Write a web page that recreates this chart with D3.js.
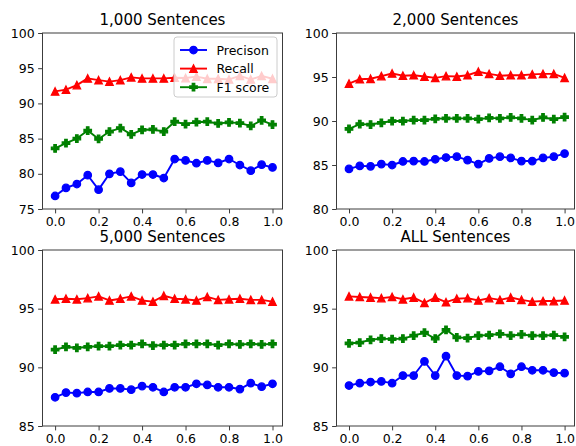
<!DOCTYPE html>
<html>
<head>
<meta charset="utf-8">
<script src="https://cdn.jsdelivr.net/npm/d3@7"></script>
<style>
  body { margin: 0; background: #fff; }
  svg { display: block; font-family: "DejaVu Sans", sans-serif; }
</style>
</head>
<body>
<svg id="chart" width="576" height="446"></svg>
<script>
// x positions of the points (weight from 0.0 to 1.0)
const xs = [0, 0.05, 0.1, 0.15, 0.2, 0.25, 0.3, 0.35, 0.4, 0.45, 0.5,
            0.55, 0.6, 0.65, 0.7, 0.75, 0.8, 0.85, 0.9, 0.95, 1.0];
const xTicks = [0, 0.2, 0.4, 0.6, 0.8, 1.0];

const seriesNames = ["Precison", "Recall", "F1 score"];
const seriesColors = ["#0000ff", "#ff0000", "#008000"];
const seriesMarkers = ["circle", "triangle", "plus"];

const titles = ["1,000 Sentences", "2,000 Sentences", "5,000 Sentences", "ALL Sentences"];
const yRanges = [[75, 100], [80, 100], [85, 100], [85, 100]];
const yTicks1k = [75, 80, 85, 90, 95, 100];
const yTicks2k = [80, 85, 90, 95, 100];
const yTicks5k = [85, 90, 95, 100];
const yTicksAll = [85, 90, 95, 100];

const precision1k = [76.85, 78.0, 78.55, 79.8, 77.75, 80.0, 80.3, 78.7, 79.9, 79.9, 79.4,
                     82.1, 81.9, 81.5, 81.9, 81.55, 82.1, 81.25, 80.45, 81.3, 80.9];
const recall1k = [91.7, 91.95, 92.6, 93.55, 93.3, 93.1, 93.3, 93.7, 93.55, 93.55, 93.55,
                  93.65, 93.6, 93.8, 93.5, 93.5, 93.4, 93.9, 93.4, 93.9, 93.5];
const f1_1k = [83.6, 84.35, 85.0, 86.15, 84.95, 86.0, 86.5, 85.6, 86.25, 86.3, 86.0,
               87.4, 87.05, 87.35, 87.4, 87.15, 87.3, 87.2, 86.8, 87.6, 87.0];

const precision2k = [84.55, 84.9, 84.85, 85.1, 85.0, 85.4, 85.45, 85.4, 85.65, 85.85, 85.95,
                     85.55, 85.1, 85.75, 85.95, 85.8, 85.45, 85.45, 85.8, 85.95, 86.3];
const recall2k = [94.25, 94.75, 94.8, 95.1, 95.4, 95.15, 95.2, 95.05, 94.9, 95.1, 95.05,
                  95.2, 95.6, 95.35, 95.15, 95.2, 95.2, 95.3, 95.35, 95.35, 94.9];
const f1_2k = [89.1, 89.65, 89.6, 89.8, 90.0, 90.0, 90.1, 90.1, 90.25, 90.3, 90.3,
               90.3, 90.2, 90.35, 90.3, 90.4, 90.3, 90.1, 90.4, 90.2, 90.45];

const precision5k = [87.45, 87.85, 87.8, 87.9, 87.9, 88.2, 88.2, 88.1, 88.4, 88.3, 87.9,
                     88.3, 88.3, 88.6, 88.5, 88.3, 88.3, 88.15, 88.65, 88.35, 88.6];
const recall5k = [95.8, 95.85, 95.8, 95.9, 96.05, 95.7, 95.85, 96.05, 95.7, 95.6, 96.1,
                  95.85, 95.8, 95.7, 96.0, 95.75, 95.8, 95.85, 95.75, 95.75, 95.6];
const f1_5k = [91.5, 91.75, 91.65, 91.75, 91.8, 91.8, 91.9, 91.9, 92.0, 91.85, 91.9,
               91.9, 92.0, 92.0, 92.0, 91.9, 92.0, 91.95, 92.0, 91.95, 92.0];

const precisionAll = [88.45, 88.65, 88.75, 88.8, 88.65, 89.3, 89.3, 90.5, 89.3, 90.95, 89.3,
                      89.25, 89.65, 89.7, 90.05, 89.45, 90.05, 89.75, 89.75, 89.55, 89.5];
const recallAll = [96.05, 96.0, 95.95, 95.9, 96.0, 95.8, 95.95, 95.5, 95.95, 95.55, 95.85,
                   95.9, 95.7, 95.9, 95.75, 95.95, 95.75, 95.6, 95.65, 95.65, 95.7];
const f1_All = [92.05, 92.1, 92.35, 92.45, 92.4, 92.45, 92.7, 92.95, 92.45, 93.2, 92.55,
                92.5, 92.7, 92.75, 92.85, 92.7, 92.8, 92.7, 92.7, 92.75, 92.6];

const panelSeries = [
    [precision1k, recall1k, f1_1k],
    [precision2k, recall2k, f1_2k],
    [precision5k, recall5k, f1_5k],
    [precisionAll, recallAll, f1_All]
];
const panelTicks = [yTicks1k, yTicks2k, yTicks5k, yTicksAll];

const svg = d3.select("#chart");
const cols = [[42.5, 282.5], [336.5, 574.5]];
const rows = [[33, 209], [250, 426]];
const ms = 7.5; // marker size in px
const spineColor = "#3c3c3c";

function markerPath(kind) {
    const h = ms / 2;
    if (kind === "triangle") {
        return `M0,${-h}L${h},${h}L${-h},${h}Z`;
    }
    if (kind === "plus") {
        const a = ms / 6;
        return `M${-a},${-h}H${a}V${-a}H${h}V${a}H${a}V${h}H${-a}V${a}H${-h}V${-a}H${-a}Z`;
    }
    return d3.symbol(d3.symbolCircle, Math.PI * h * h)();
}

function drawPanel(i) {
    const [x0, x1] = cols[i % 2];
    const [y0, y1] = rows[Math.floor(i / 2)];
    const x = d3.scaleLinear().domain([-0.058, 1.046]).range([x0, x1]);
    const y = d3.scaleLinear().domain(yRanges[i]).range([y1, y0]);
    const g = svg.append("g");

    const line = d3.line().x((d, k) => x(xs[k])).y(d => y(d));

    panelSeries[i].forEach((vals, s) => {
        const color = seriesColors[s];
        g.append("path")
            .attr("d", line(vals))
            .attr("fill", "none")
            .attr("stroke", color)
            .attr("stroke-width", 1.9)
            .attr("stroke-linejoin", "round");
        g.selectAll(null)
            .data(vals)
            .join("path")
            .attr("d", markerPath(seriesMarkers[s]))
            .attr("transform", (d, k) => `translate(${x(xs[k])},${y(d)})`)
            .attr("fill", color)
            .attr("stroke", color)
            .attr("stroke-width", 1.25)
            .attr("stroke-linejoin", "miter");
    });

    // axes
    const yAxis = g.append("g")
        .attr("transform", `translate(${x0},0)`)
        .call(d3.axisLeft(y).tickValues(panelTicks[i]).tickSize(4.4).tickPadding(3.5));
    const xAxis = g.append("g")
        .attr("transform", `translate(0,${y1})`)
        .call(d3.axisBottom(x).tickValues(xTicks).tickFormat(d3.format(".1f")).tickSize(4.4).tickPadding(3.5));
    [yAxis, xAxis].forEach(ax => {
        ax.select(".domain").remove();
        ax.selectAll("text").attr("font-size", 12.5).attr("fill", "#000")
            .attr("font-family", "DejaVu Sans, sans-serif");
        ax.selectAll("line").attr("stroke", spineColor).attr("stroke-width", 1);
    });

    g.append("rect")
        .attr("x", x0).attr("y", y0)
        .attr("width", x1 - x0).attr("height", y1 - y0)
        .attr("fill", "none").attr("stroke", spineColor).attr("stroke-width", 1);

    g.append("text")
        .attr("x", (x0 + x1) / 2).attr("y", y0 - 8)
        .attr("text-anchor", "middle")
        .attr("font-size", 15)
        .text(titles[i]);

    if (i === 0) drawLegend(g, x1, y0);
}

function drawLegend(g, right, top) {
    const w = 103, h = 60;
    const lx = right - 5.5 - w, ly = top + 4;
    g.append("rect")
        .attr("x", lx).attr("y", ly).attr("width", w).attr("height", h)
        .attr("rx", 3)
        .attr("fill", "#fff").attr("fill-opacity", 0.8)
        .attr("stroke", "#cccccc").attr("stroke-width", 1);
    seriesNames.forEach((name, s) => {
        const cy = ly + 13 + s * 18.6;
        const color = seriesColors[s];
        g.append("line")
            .attr("x1", lx + 6).attr("x2", lx + 33)
            .attr("y1", cy).attr("y2", cy)
            .attr("stroke", color).attr("stroke-width", 1.9);
        g.append("path")
            .attr("d", markerPath(seriesMarkers[s]))
            .attr("transform", `translate(${lx + 19.5},${cy})`)
            .attr("fill", color).attr("stroke", color).attr("stroke-width", 1.25);
        g.append("text")
            .attr("x", lx + 42.5).attr("y", cy)
            .attr("dy", "0.36em")
            .attr("font-size", 12.5)
            .text(name);
    });
}

d3.range(4).forEach(drawPanel);
</script>
</body>
</html>
